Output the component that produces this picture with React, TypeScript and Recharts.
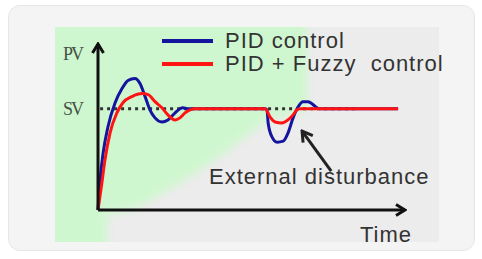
import { Legend, Line, LineChart, ReferenceLine, XAxis, YAxis } from "recharts";

// PID only
const pidTime = [0, 0.7, 1.7, 3.3, 5.7, 8, 10, 12.3, 14, 15.7, 17.3, 19, 21.3, 23.3, 25.7, 27.3, 28.3, 29.7, 55.7, 56.3, 56.7, 58, 59.7, 61.7, 63.3, 65, 66.7, 68.3, 70, 71.7, 73, 74, 100];
const pidValue = [0, 0.3, 0.56, 0.82, 1.06, 1.2, 1.28, 1.3, 1.25, 1.12, 0.99, 0.91, 0.87, 0.89, 0.96, 1.0, 1.01, 1.0, 1.0, 0.99, 0.86, 0.72, 0.67, 0.68, 0.76, 0.91, 1.02, 1.07, 1.07, 1.04, 1.01, 1.0, 1.0];

// PID + fuzzy
const fuzzyTime = [0, 1.3, 2.3, 4, 6.3, 8.3, 11.3, 14.7, 16.7, 19, 21.3, 23.3, 25.7, 27.3, 29, 30.7, 32.3, 55.7, 57.3, 59, 61.3, 63.3, 65, 66.3, 67.3, 100];
const fuzzyValue = [0, 0.27, 0.49, 0.76, 0.96, 1.06, 1.12, 1.15, 1.14, 1.07, 1.01, 0.94, 0.89, 0.91, 0.96, 0.99, 1.0, 1.0, 0.92, 0.87, 0.86, 0.89, 0.94, 0.99, 1.0, 1.0];

// set value guide
const svTime = [0.7, 86.7];
const svValue = [1, 1];

const yTickValues = [1, 1.54];
const yTickLabels = ["SV", "PV"];

const seriesNames = ["PID control", "PID + Fuzzy  control"];

const disturbanceFrom = { x: 77.7, y: 0.385 };
const disturbanceTo = { x: 68, y: 0.78 };

const toPoints = (ts: number[], vs: number[]) => ts.map((t, i) => ({ t, v: vs[i] }));

const pidData = toPoints(pidTime, pidValue);
const fuzzyData = toPoints(fuzzyTime, fuzzyValue);
const svData = toPoints(svTime, svValue);

const textFont = "'Liberation Sans', Arial, sans-serif";

function LegendRows({ payload }: any) {
  const items = (payload || [])
    .filter((p: any) => seriesNames.includes(p.value))
    .sort((a: any, b: any) => seriesNames.indexOf(a.value) - seriesNames.indexOf(b.value));
  return (
    <div style={{ fontFamily: textFont, fontSize: 22, color: "#333", letterSpacing: 1, textAlign: "left" }}>
      {items.map((item: any) => (
        <div key={item.value} style={{ display: "flex", alignItems: "center", height: 23, whiteSpace: "pre" }}>
          <span style={{ display: "inline-block", width: 51, height: 4, background: item.color, marginRight: 12 }} />
          <span style={{ lineHeight: "23px" }}>{item.value}</span>
        </div>
      ))}
    </div>
  );
}

export default function App() {
  const tickText = (props: any) => {
    const { x, y, payload } = props;
    const idx = yTickValues.indexOf(payload.value);
    return (
      <text
        x={x}
        y={y}
        dy={6}
        textAnchor="end"
        fill="#455245"
        fontFamily="'Liberation Serif', 'Times New Roman', serif"
        fontSize={18}
        letterSpacing={-2}
      >
        {yTickLabels[idx]}
      </text>
    );
  };

  return (
    <div style={{ position: "absolute", left: 0, top: 0, width: 482, height: 259, background: "#fff" }}>
      <div
        style={{
          position: "absolute",
          left: 8,
          top: 5,
          width: 465,
          height: 244,
          background: "#f4f4f4",
          borderRadius: 12,
          border: "1px solid #e6e6e6",
        }}
      />
      {/* plot backdrop: green upper-left, grey lower-right */}
      <div
        style={{
          position: "absolute",
          left: 55,
          top: 27,
          width: 384,
          height: 215,
          overflow: "hidden",
          background: "#ececec",
        }}
      >
        <div style={{ position: "absolute", left: -20, top: -20, width: 424, height: 255, filter: "blur(4px)" }}>
          <div
            style={{
              position: "absolute",
              inset: 0,
              background: "#cff7cf",
              clipPath:
                "polygon(0px 0px, 272px 0px, 272px 103px, 232px 113px, 190px 146px, 150px 173px, 104px 200px, 72px 208px, 72px 255px, 0px 255px)",
            }}
          />
        </div>
      </div>
      <div style={{ position: "absolute", left: 0, top: 0 }}>
        <LineChart width={482} height={259} margin={{ top: 44, right: 77, bottom: 48, left: 97 }}>
          <defs>
            <marker id="axisHead" viewBox="-12 -8 14 16" refX={0} refY={0} markerWidth={14} markerHeight={16} markerUnits="userSpaceOnUse" orient="auto-start-reverse">
              <path d="M-9,-5.5 L0,0 L-9,5.5" fill="none" stroke="#111" strokeWidth={3} />
            </marker>
            <marker id="pointerHead" viewBox="-14 -9 16 18" refX={0} refY={0} markerWidth={16} markerHeight={18} markerUnits="userSpaceOnUse" orient="auto">
              <path d="M-10,-6 L0,0 L-10,6" fill="none" stroke="#222" strokeWidth={3} />
            </marker>
          </defs>
          <XAxis
            dataKey="t"
            type="number"
            domain={[0, 102.3]}
            height={1}
            tick={false}
            tickLine={false}
            axisLine={{ stroke: "#111", strokeWidth: 3, markerEnd: "url(#axisHead)" }}
          />
          <YAxis
            dataKey="v"
            type="number"
            domain={[0, 1.64]}
            width={1}
            ticks={yTickValues}
            tick={tickText}
            tickSize={0}
            tickMargin={16}
            tickLine={false}
            axisLine={{ stroke: "#111", strokeWidth: 3, markerStart: "url(#axisHead)" }}
          />
          <Line
            data={svData}
            dataKey="v"
            name="sv"
            legendType="none"
            stroke="#333"
            strokeWidth={3}
            strokeDasharray="3 4"
            dot={false}
            isAnimationActive={false}
          />
          <Line
            data={pidData}
            dataKey="v"
            name={seriesNames[0]}
            type="monotone"
            stroke="#14149e"
            strokeWidth={3}
            dot={false}
            isAnimationActive={false}
          />
          <Line
            data={fuzzyData}
            dataKey="v"
            name={seriesNames[1]}
            type="monotone"
            stroke="#ff1414"
            strokeWidth={3}
            dot={false}
            isAnimationActive={false}
          />
          <ReferenceLine
            segment={[disturbanceFrom, disturbanceTo]}
            stroke="#222"
            strokeWidth={3}
            markerEnd="url(#pointerHead)"
          />
          <text x={209} y={184} fontFamily={textFont} fontSize={22} letterSpacing={1} fill="#333">
            External disturbance
          </text>
          <text x={360} y={242} fontFamily={textFont} fontSize={22} letterSpacing={1} fill="#333">
            Time
          </text>
          <Legend
            layout="horizontal"
            verticalAlign="middle"
            align="center"
            content={LegendRows}
            wrapperStyle={{ position: "absolute", left: 162, top: 29, width: 300 }}
          />
        </LineChart>
      </div>
    </div>
  );
}
